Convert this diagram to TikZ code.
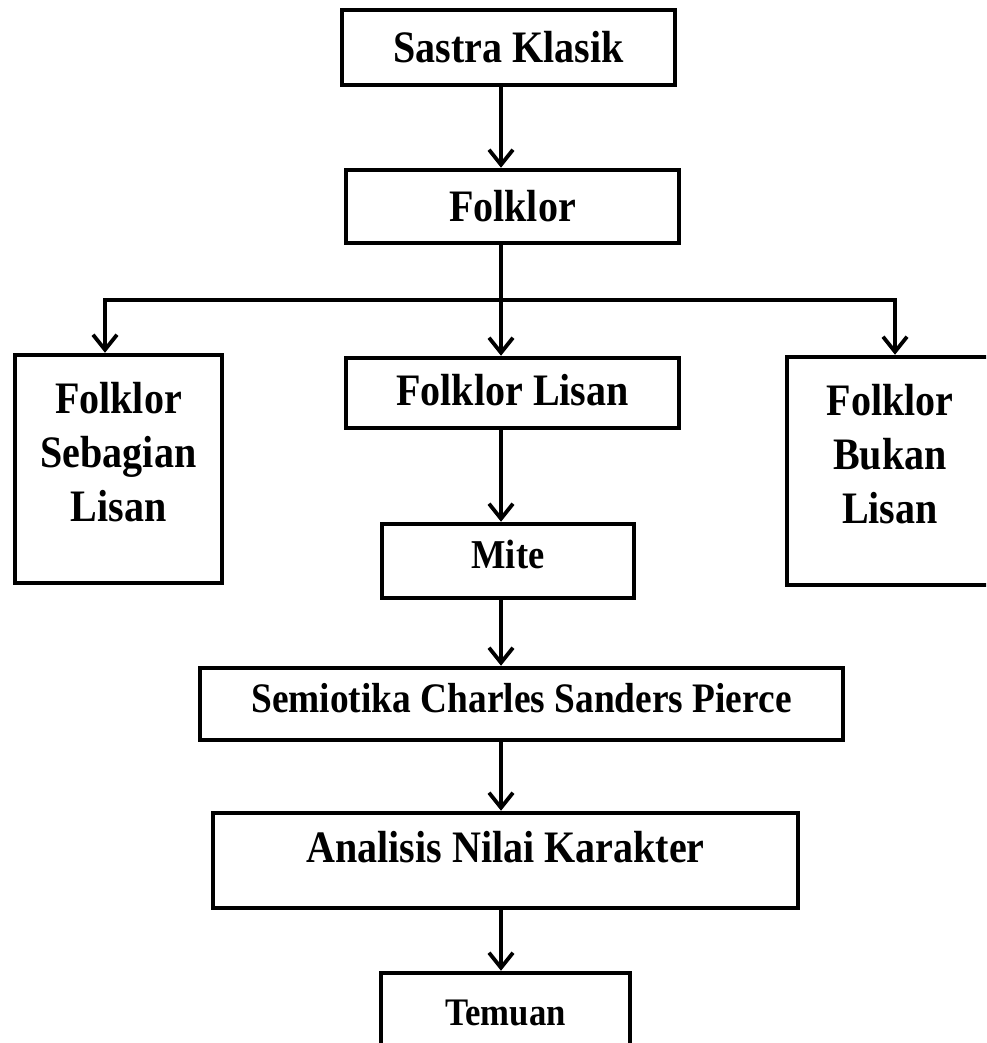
\documentclass[tikz,border=0pt]{standalone}
\usepackage{fontspec}
\setmainfont{Liberation Serif}[FakeStretch=0.89]
\usepackage{tikz}
\usetikzlibrary{shapes.geometric, arrows, arrows.meta, positioning, calc}

\begin{document}
\begin{tikzpicture}[x=1pt, y=-1pt,
  kotak/.style={draw, rectangle, line width=4.5pt, align=center, inner sep=0pt,
    font=\bfseries\fontsize{45}{54}\selectfont},
  panah/.style={line width=3.8pt, -{Straight Barb[length=15pt, width=24pt]}}]
\useasboundingbox (0,0) rectangle (986,1043);
\clip (0,0) rectangle (986,1043);
\node[kotak, minimum width=333pt, minimum height=75pt] (sastra) at (508.5,47.5) {Sastra Klasik};
\node[kotak, minimum width=333pt, minimum height=73pt] (folklor) at (512.5,206.5) {Folklor};
\node[kotak, minimum width=207pt, minimum height=228pt, text depth=34pt] (sebagian) at (118.5,469) {Folklor\\Sebagian\\Lisan};
\node[kotak, minimum width=333pt, minimum height=70pt, text depth=7pt] (lisan) at (512.5,393) {Folklor Lisan};
\node[kotak, minimum width=206pt, minimum height=228pt, text depth=34pt] (bukan) at (890,471) {Folklor\\Bukan\\Lisan};
\node[kotak, minimum width=252pt, minimum height=74pt, text depth=13pt, font=\bfseries\fontsize{41}{48}\selectfont] (mite) at (508,561) {Mite};
\node[kotak, minimum width=643pt, minimum height=72pt, text depth=12pt, font=\bfseries\fontsize{42}{50}\selectfont] (semiotika) at (521.5,704) {Semiotika Charles Sanders Pierce};
\node[kotak, minimum width=585pt, minimum height=95pt, text depth=27pt] (analisis) at (505.5,860.5) {Analisis Nilai Karakter};
\node[kotak, minimum width=249pt, minimum height=80pt, font=\bfseries\fontsize{39}{46}\selectfont] (temuan) at (505.5,1013) {Temuan};
% cabang folklor
\coordinate (tengah) at (501,300);
\coordinate (kiri) at (105,300);
\coordinate (kanan) at (895,300);
\draw[panah] (sastra.south -| tengah) -- (folklor.north -| tengah);
\draw[line width=3.8pt] (folklor.south -| tengah) -- (tengah);
\draw[panah] (tengah) -| (sebagian.north -| kiri);
\draw[panah] (tengah) -| (bukan.north -| kanan);
\draw[panah] (tengah) -- (lisan.north -| tengah);
\draw[panah] (lisan.south -| tengah) -- (mite.north -| tengah);
\draw[panah] (mite.south -| tengah) -- (semiotika.north -| tengah);
\draw[panah] (semiotika.south -| tengah) -- (analisis.north -| tengah);
\draw[panah] (analisis.south -| tengah) -- (temuan.north -| tengah);
\end{tikzpicture}
\end{document}
